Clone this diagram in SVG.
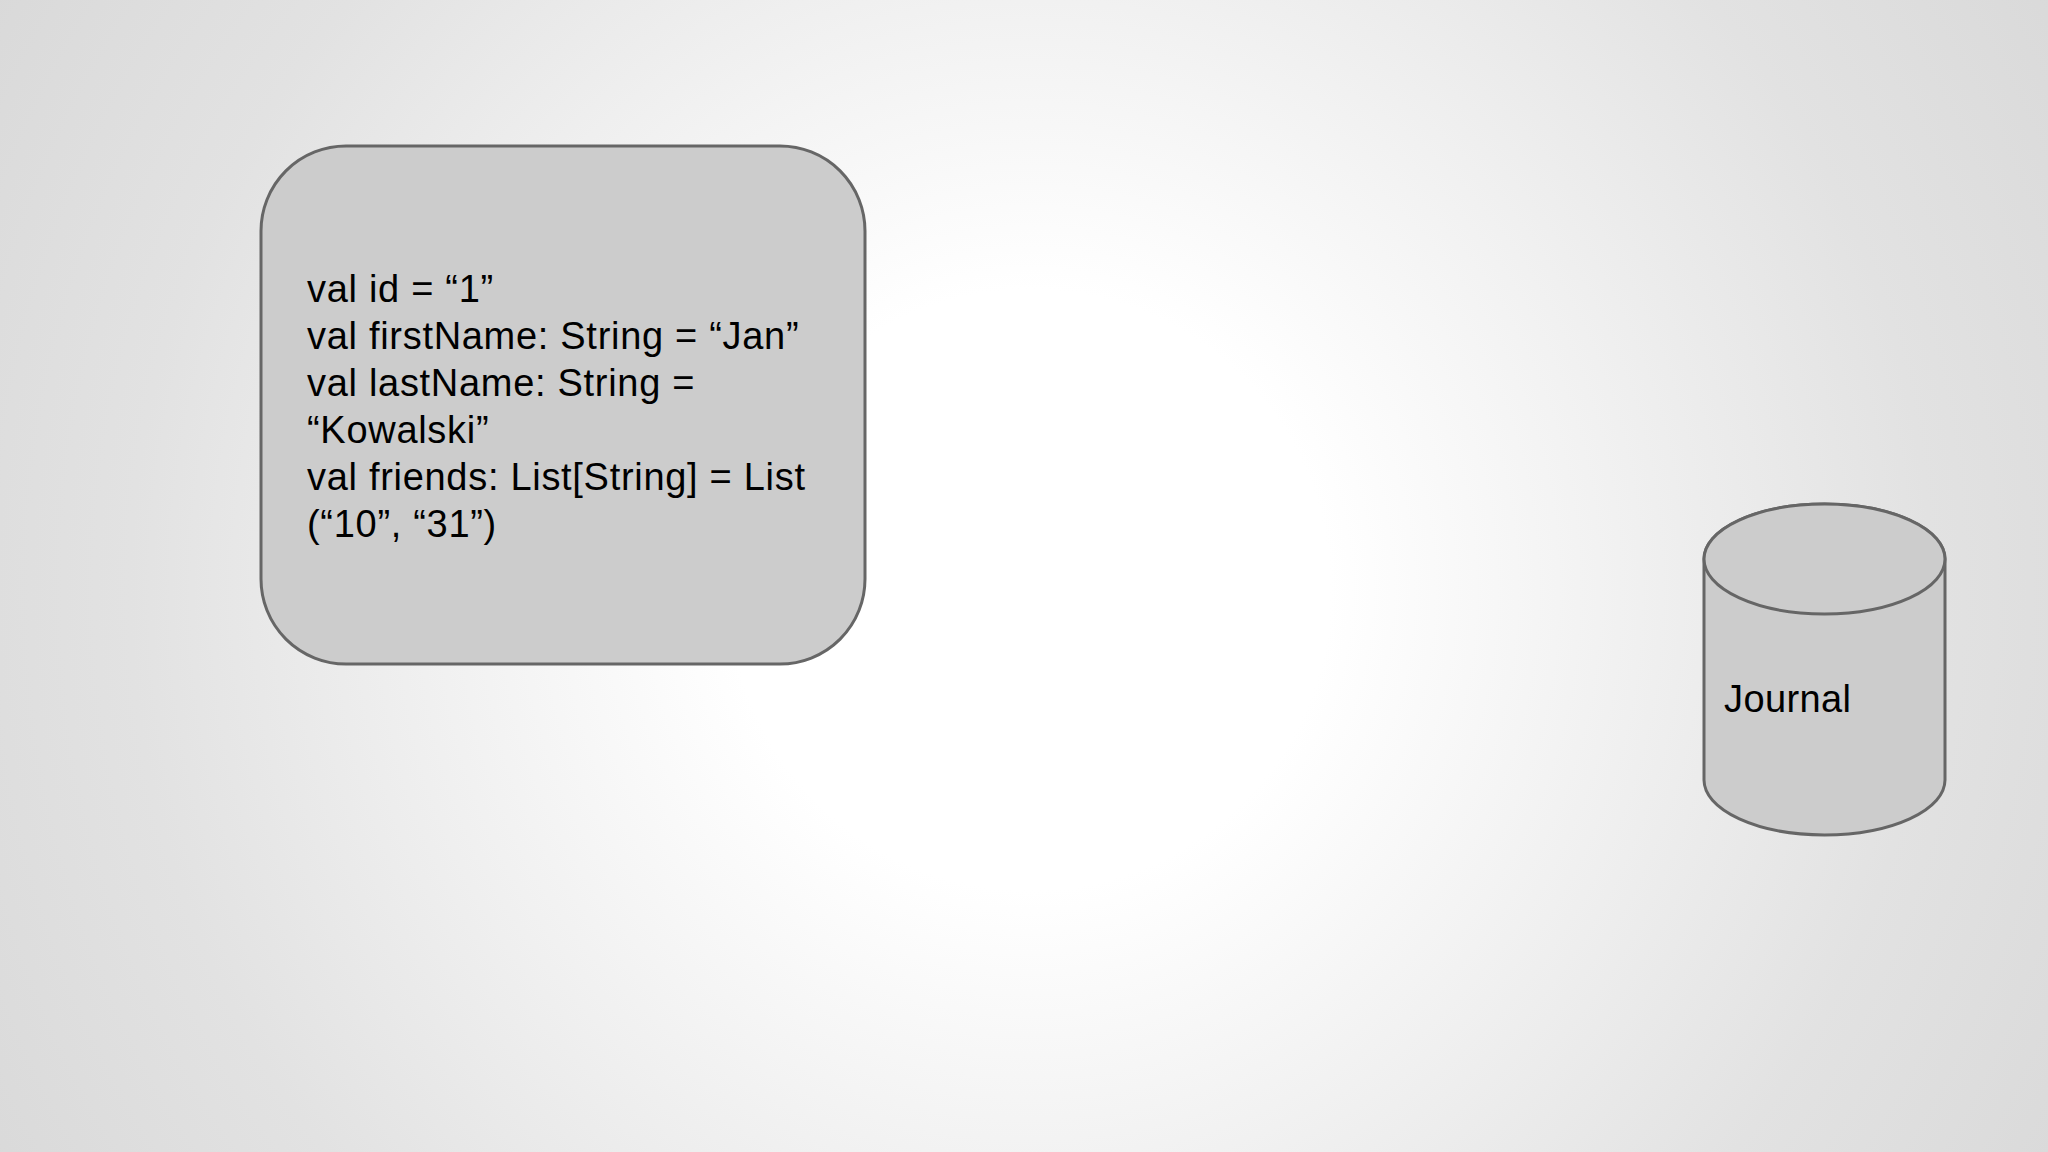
<svg xmlns="http://www.w3.org/2000/svg" width="2048" height="1152" viewBox="0 0 2048 1152">
  <defs>
    <radialGradient id="bg" cx="1030" cy="590" r="1200" gradientUnits="userSpaceOnUse">
      <stop offset="0" stop-color="#ffffff"/>
      <stop offset="0.25" stop-color="#ffffff"/>
      <stop offset="0.75" stop-color="#e2e2e2"/>
      <stop offset="1" stop-color="#d9d9d9"/>
    </radialGradient>
  </defs>
  <style>
    .shape { fill: #cccccc; stroke: #666666; stroke-width: 3; }
    .label { font-family: "Liberation Sans", Arial, sans-serif; font-size: 38px; letter-spacing: 0.7px; fill: #000000; }
  </style>
  <rect x="0" y="0" width="2048" height="1152" fill="url(#bg)"/>
  <g id="record">
    <rect class="shape" x="261" y="146" width="604" height="518" rx="85" ry="85"/>
    <text class="label">
      <tspan x="307" y="302">val id = “1”</tspan>
      <tspan x="307" y="349">val firstName: String = “Jan”</tspan>
      <tspan x="307" y="396">val lastName: String =</tspan>
      <tspan x="307" y="443">“Kowalski”</tspan>
      <tspan x="307" y="490">val friends: List[String] = List</tspan>
      <tspan x="307" y="537">(“10”, “31”)</tspan>
    </text>
  </g>
  <g id="journal">
    <path class="shape" d="M1704,559 L1704,780 A120.5,55 0 0 0 1945,780 L1945,559 A120.5,55 0 0 0 1704,559 Z"/>
    <ellipse class="shape" cx="1824.5" cy="559" rx="120.5" ry="55"/>
    <text class="label" x="1724" y="712" style="letter-spacing:0.4px">Journal</text>
  </g>
  <g id="connectors"></g>
</svg>
